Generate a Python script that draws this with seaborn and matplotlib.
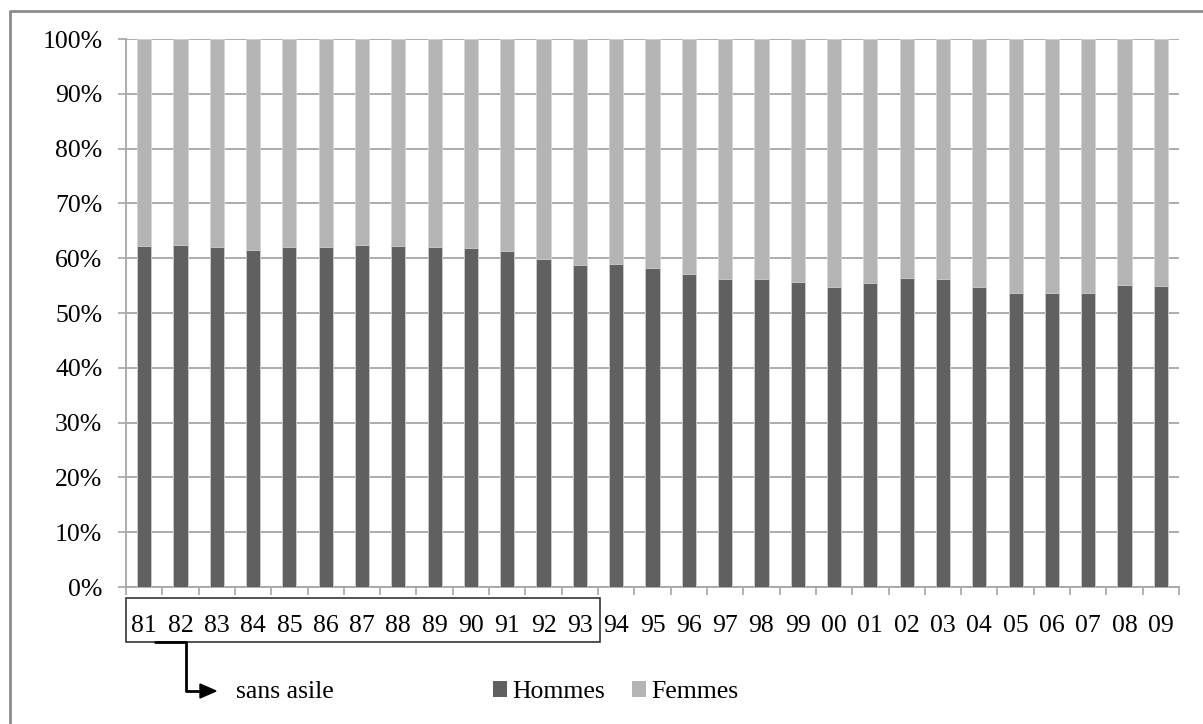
import matplotlib
matplotlib.use("Agg")
import matplotlib.pyplot as plt
from matplotlib.patches import Rectangle, Patch
from matplotlib.lines import Line2D
import seaborn as sns
import pandas as pd

# Years of the survey (two-digit labels)
years = ["81", "82", "83", "84", "85", "86", "87", "88", "89", "90",
         "91", "92", "93", "94", "95", "96", "97", "98", "99", "00",
         "01", "02", "03", "04", "05", "06", "07", "08", "09"]
# Share of men, in percent
hommes = [62.3, 62.5, 62.0, 61.5, 62.0, 62.0, 62.5, 62.3, 62.0, 61.8,
          61.3, 59.9, 58.8, 59.0, 58.3, 57.1, 56.2, 56.2, 55.7, 54.8,
          55.5, 56.4, 56.2, 54.8, 53.6, 53.6, 53.6, 55.2, 55.0]
# Share of women, in percent
femmes = [100 - h for h in hommes]
yticks = [0, 10, 20, 30, 40, 50, 60, 70, 80, 90, 100]
ytick_labels = [f"{v}%" for v in yticks]

dark = "#606060"
light = "#b4b4b4"
grid_c = "#a6a6a6"

sns.set_style("white")
plt.rcParams["font.family"] = ["Liberation Serif", "DejaVu Serif"]
plt.rcParams["text.color"] = "black"
plt.rcParams["xtick.labelcolor"] = "black"
plt.rcParams["ytick.labelcolor"] = "black"

W, H = 1203, 724
fig = plt.figure(figsize=(W / 100, H / 100), dpi=100)

def fx(px):
    return px / W

def fy(py):
    return 1 - py / H

ax = fig.add_axes([fx(126), fy(587), fx(1179) - fx(126), fy(39) - fy(587)])

df = pd.DataFrame({"annee": years, "hommes": hommes, "femmes": femmes})
df["total"] = df["hommes"] + df["femmes"]

# stacked 100% bars: full column in light grey, men's share drawn over it
sns.barplot(data=df, x="annee", y="total", color=light, width=0.39,
            edgecolor="#d6d6d6", linewidth=0.6, saturation=1, ax=ax, zorder=2)
sns.barplot(data=df, x="annee", y="hommes", color=dark, width=0.39,
            edgecolor="#d0d0d0", linewidth=0.6, saturation=1, ax=ax, zorder=3)

ax.set_xlim(-0.5, len(years) - 0.5)
ax.set_ylim(0, 100)
ax.set_xlabel("")
ax.set_ylabel("")

ax.set_yticks(yticks)
ax.set_yticklabels(ytick_labels, fontsize=18.5, color="black")
ax.yaxis.grid(True, color=grid_c, linewidth=1.3, zorder=0)
ax.set_axisbelow(True)

# category labels centred, tick marks at category boundaries
ax.set_xticks(range(len(years)))
ax.set_xticklabels(years, fontsize=18.5, color="black")
ax.set_xticks([i - 0.5 for i in range(len(years) + 1)], minor=True)
ax.tick_params(axis="x", which="major", length=0, pad=20)
ax.tick_params(axis="x", which="minor", length=6, width=1.2, color=grid_c,
               direction="out", bottom=True)
ax.tick_params(axis="y", which="major", length=6, width=1.2, color=grid_c,
               direction="out", left=True, pad=11)

for side in ["top", "right"]:
    ax.spines[side].set_visible(False)
for side in ["left", "bottom"]:
    ax.spines[side].set_color(grid_c)
    ax.spines[side].set_linewidth(1.3)

# frame around the early years
fig.add_artist(Rectangle((fx(126), fy(642)), fx(600) - fx(126), fy(598) - fy(642),
                         transform=fig.transFigure, fill=False,
                         edgecolor="#333333", linewidth=1.2))

# elbow arrow pointing to the note
fig.add_artist(Line2D([fx(155), fx(186), fx(186), fx(203)],
                      [fy(642), fy(642), fy(691), fy(691)],
                      transform=fig.transFigure, color="black", linewidth=2))
fig.add_artist(plt.Polygon([[fx(200), fy(684)], [fx(216), fy(691)], [fx(200), fy(698)]],
                           closed=True, transform=fig.transFigure,
                           facecolor="black", edgecolor="black"))
fig.text(fx(236), fy(692), "sans asile", fontsize=18.5, va="center", ha="left",
         color="black")

# legend
handles = [Patch(facecolor=dark, edgecolor="none", label="Hommes"),
           Patch(facecolor=light, edgecolor="none", label="Femmes")]
leg = fig.legend(handles=handles, loc="center left", bbox_to_anchor=(fx(493), fy(692)),
                 ncol=2, frameon=False, fontsize=18.5, handlelength=0.55,
                 handleheight=0.55, handletextpad=0.2, columnspacing=1.05,
                 borderaxespad=0, borderpad=0)
for t in leg.get_texts():
    t.set_color("black")

# outer chart border (left and top edges)
fig.add_artist(Line2D([fx(10), fx(10), fx(1203)], [fy(724), fy(11), fy(11)],
                      transform=fig.transFigure, color="#8c8c8c", linewidth=2))

fig.savefig("out.png", dpi=100, facecolor="white")
